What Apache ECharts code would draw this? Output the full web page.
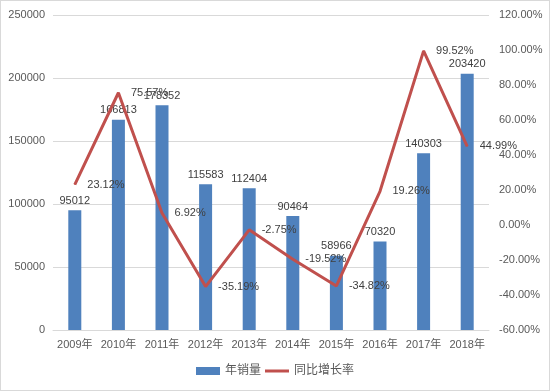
<!DOCTYPE html>
<html><head><meta charset="utf-8">
<script src="https://cdn.jsdelivr.net/npm/echarts@6/dist/echarts.min.js"></script>
<style>html,body{margin:0;padding:0;background:#fff}#c{position:absolute;left:0;top:0;width:548px;height:389px;border:1px solid #d9d9d9}</style>
</head><body><div id="c"></div>
<script>
const categories = ['2009年','2010年','2011年','2012年','2013年','2014年','2015年','2016年','2017年','2018年'];
const sales = [95012,166813,178352,115583,112404,90464,58966,70320,140303,203420];
const growth = [23.12,75.57,6.92,-35.19,-2.75,-19.52,-34.82,19.26,99.52,44.99];
const chart = echarts.init(document.getElementById('c'));
const font = '"Liberation Sans", "Noto Sans CJK SC", sans-serif';
chart.setOption({
  animation:false,
  textStyle:{fontFamily:font},
  grid:{left:52,right:60,top:14,bottom:60},
  legend:{bottom:8,left:'center',itemGap:4,itemWidth:24,itemHeight:8,
    textStyle:{fontSize:12,color:'#595959',fontFamily:font},
    data:[{name:'年销量',icon:'rect'},{name:'同比增长率',icon:'path://M0,4L24,4L24,7L0,7Z'}]},
  xAxis:{type:'category',data:categories,
    axisLine:{lineStyle:{color:'#d9d9d9'}},axisTick:{show:false},
    axisLabel:{color:'#595959',fontSize:11,margin:9,interval:0}},
  yAxis:[
    {type:'value',min:0,max:250000,interval:50000,
     axisLine:{show:false},axisTick:{show:false},
     axisLabel:{color:'#595959',fontSize:11,margin:8,formatter:v=>String(v)},
     splitLine:{lineStyle:{color:'#d9d9d9'}}},
    {type:'value',min:-60,max:120,interval:20,
     axisLine:{show:false},axisTick:{show:false},splitLine:{show:false},
     axisLabel:{color:'#595959',fontSize:11,margin:10,formatter:v=>v.toFixed(2)+'%'}}
  ],
  series:[
    {name:'年销量',type:'bar',data:sales,barWidth:13,itemStyle:{color:'#4f81bd'},
     labelLayout:{hideOverlap:false},
     label:{show:true,position:'top',color:'#404040',fontSize:11,distance:4}},
    {name:'同比增长率',type:'line',yAxisIndex:1,data:growth,symbol:'circle',symbolSize:1,showSymbol:true,
     labelLayout:{hideOverlap:false},
     lineStyle:{color:'#c0504d',width:3},itemStyle:{color:'#c0504d'},
     label:{show:true,position:'right',color:'#404040',fontSize:11,distance:12,formatter:p=>p.value.toFixed(2)+'%'}}
  ]
});
</script></body></html>
